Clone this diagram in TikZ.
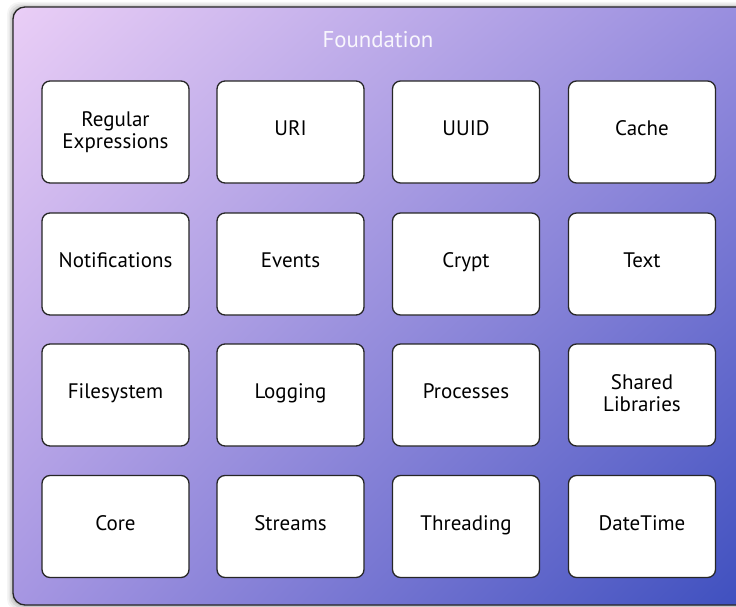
\documentclass[tikz,border=0pt]{standalone}
\usepackage{fontspec}
\setmainfont{PT Sans}
\usetikzlibrary{shadings}
\definecolor{frameUL}{RGB}{234,206,246}
\definecolor{frameUR}{RGB}{150,140,222}
\definecolor{frameLL}{RGB}{166,150,226}
\definecolor{frameLR}{RGB}{60,78,190}
\begin{document}
\begin{tikzpicture}[x=1pt,y=-1pt,
  modulebox/.style={draw=black!85, line width=1.3pt, fill=white, rounded corners=8pt,
    minimum width=147pt, minimum height=102pt, inner sep=2pt, align=center,
    font=\fontsize{21}{21.5}\selectfont, text=black},
  module/.style={modulebox, text height=1.0em, text depth=0.25em},
  heading/.style={font=\fontsize{22.8}{24}\selectfont, text=white, text opacity=0.9}]
  \useasboundingbox (0,0) rectangle (736,607);
  \clip (0,0) rectangle (736,607);
  \fill[white] (0,0) rectangle (736,607);
  % soft shadow around the frame
  \foreach \s/\o in {6/0.04,4.5/0.05,3/0.07,1.5/0.09}{
    \fill[black, opacity=\o, rounded corners=12pt] (13-\s,7-\s+1) rectangle (760,605+\s);
  }
  % the package frame with its colour gradient
  \shade[upper left=frameUL, upper right=frameUR,
         lower left=frameLL, lower right=frameLR,
         rounded corners=12pt] (13,7) rectangle (760,605);
  \draw[black!85, line width=1.3pt, rounded corners=12pt] (13,7) rectangle (760,605);
  \node[heading] (title) at (378,40) {Foundation};
  % modules, four columns by four rows
  \node[modulebox] (regex)  at (115.5,132) {Regular\\Expressions};
  \node[module] (uri)    at (290.5,132) {URI};
  \node[module] (uuid)   at (466,132)   {UUID};
  \node[module] (cache)  at (642,132)   {Cache};
  \node[module] (notif)  at (115.5,264) {Notifications};
  \node[module] (events) at (290.5,264) {Events};
  \node[module] (crypt)  at (466,264)   {Crypt};
  \node[module] (text)   at (642,264)   {Text};
  \node[module] (fs)     at (115.5,395) {Filesystem};
  \node[module] (log)    at (290.5,395) {Logging};
  \node[module] (proc)   at (466,395)   {Processes};
  \node[modulebox] (shlib)  at (642,395)   {Shared\\Libraries\vphantom{g}};
  \node[module] (core)   at (115.5,526.5) {Core};
  \node[module] (streams) at (290.5,526.5) {Streams};
  \node[module] (thread) at (466,526.5) {Threading};
  \node[module] (date)   at (642,526.5) {DateTime};
\end{tikzpicture}
\end{document}
